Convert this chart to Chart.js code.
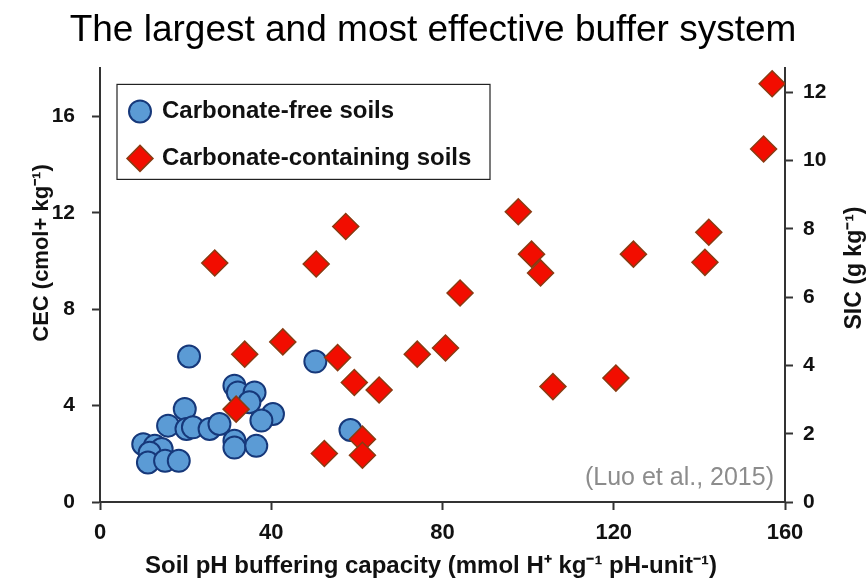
<!DOCTYPE html>
<html>
<head>
<meta charset="utf-8">
<title>The largest and most effective buffer system</title>
<script src="https://cdn.jsdelivr.net/npm/chart.js@4.4.1/dist/chart.umd.min.js"></script>
<style>
  html, body { margin: 0; padding: 0; background: #fff; }
  #wrap { width: 866px; height: 581px; }
</style>
</head>
<body>
<div id="wrap"><canvas id="bufferChart"></canvas></div>
<script>
// Carbonate-free soils: buffering capacity (x) vs CEC (left axis)
const freeBuffer = [20.8, 50.3, 58.5, 19.8, 15.9, 20.2, 21.7, 25.6, 27.9, 10.1, 12.8, 14.4, 11.6,
  11.2, 15.2, 18.4, 31.4, 32.2, 36.1, 34.9, 40.4, 37.7, 31.4, 31.4, 36.5];
const freeCEC = [6.04, 5.83, 2.99, 3.86, 3.17, 3.03, 3.10, 3.03, 3.24, 2.40, 2.33, 2.20, 2.04,
  1.64, 1.71, 1.71, 4.83, 4.55, 4.55, 4.14, 3.65, 3.38, 2.54, 2.26, 2.33];

// Carbonate-containing soils: buffering capacity (x) vs SIC (right axis)
const carbBuffer = [26.8, 50.5, 57.4, 33.8, 42.7, 55.5, 59.4, 65.2, 31.8, 52.4, 61.3, 61.3, 74.1,
  80.7, 84.1, 97.7, 100.8, 102.9, 105.8, 120.5, 124.6, 142.2, 141.3, 155.0, 157.0];
const carbSIC = [7.00, 6.97, 8.07, 4.33, 4.69, 4.23, 3.50, 3.28, 2.72, 1.42, 1.84, 1.37, 4.33,
  4.51, 6.12, 8.50, 7.26, 6.71, 3.38, 3.63, 7.26, 7.90, 7.02, 10.34, 12.25];

const xTicks = [0, 40, 80, 120, 160];
const cecTicks = [0, 4, 8, 12, 16];
const sicTicks = [0, 2, 4, 6, 8, 10, 12];

const FONT = '"Liberation Sans", Arial, Helvetica, sans-serif';
const AXIS = "#333";

// legend box, citation and axis titles drawn on top of the chart
const overlay = {
  id: "overlay",
  afterDraw(chart) {
    const { ctx, chartArea: a } = chart;
    const [free, carb] = chart.data.datasets;
    ctx.save();

    // legend box
    const bx = a.left + 17, by = a.top + 16;
    ctx.fillStyle = "#fff";
    ctx.fillRect(bx, by, 373, 95);
    ctx.strokeStyle = "#222";
    ctx.lineWidth = 1.2;
    ctx.strokeRect(bx, by, 373, 95);

    const mx = bx + 23;
    const y1 = by + 27, y2 = by + 74;
    ctx.beginPath();
    ctx.arc(mx, y1, 11, 0, Math.PI * 2);
    ctx.fillStyle = free.backgroundColor;
    ctx.fill();
    ctx.lineWidth = free.borderWidth;
    ctx.strokeStyle = free.borderColor;
    ctx.stroke();

    ctx.beginPath();
    ctx.moveTo(mx, y2 - 13);
    ctx.lineTo(mx + 13, y2);
    ctx.lineTo(mx, y2 + 13);
    ctx.lineTo(mx - 13, y2);
    ctx.closePath();
    ctx.fillStyle = carb.backgroundColor;
    ctx.fill();
    ctx.lineWidth = carb.borderWidth;
    ctx.strokeStyle = carb.borderColor;
    ctx.stroke();

    ctx.fillStyle = "#111";
    ctx.font = "bold 24px " + FONT;
    ctx.textAlign = "left";
    ctx.textBaseline = "middle";
    ctx.fillText(free.label, bx + 45, y1);
    ctx.fillText(carb.label, bx + 45, y2);

    // citation
    ctx.fillStyle = "#8c8c8c";
    ctx.font = "25px " + FONT;
    ctx.textAlign = "right";
    ctx.fillText("(Luo et al., 2015)", a.right - 11, a.bottom - 24);

    // axis titles
    ctx.fillStyle = "#111";
    ctx.font = "bold 24px " + FONT;
    ctx.textAlign = "center";
    ctx.fillText("Soil pH buffering capacity (mmol H\u207A kg\u207B\u00B9 pH-unit\u207B\u00B9)", 431, 566);

    ctx.font = "bold 22px " + FONT;
    ctx.save();
    ctx.translate(42, 253);
    ctx.rotate(-Math.PI / 2);
    ctx.fillText("CEC (cmol+ kg\u207B\u00B9)", 0, 0);
    ctx.restore();

    ctx.font = "bold 23px " + FONT;
    ctx.save();
    ctx.translate(855, 268);
    ctx.rotate(-Math.PI / 2);
    ctx.fillText("SIC (g kg\u207B\u00B9)", 0, 0);
    ctx.restore();

    ctx.restore();
  }
};

const axisGrid = {
  drawOnChartArea: false,
  drawTicks: true,
  tickLength: 8,
  tickWidth: 2,
  tickColor: AXIS
};

new Chart(document.getElementById("bufferChart"), {
  type: "scatter",
  data: {
    datasets: [
      {
        label: "Carbonate-free soils",
        data: freeBuffer.map((x, i) => ({ x: x, y: freeCEC[i] })),
        yAxisID: "y",
        order: 2,
        pointStyle: "circle",
        pointRadius: 11,
        pointHoverRadius: 11,
        backgroundColor: "#5b9bd5",
        borderColor: "#16387a",
        borderWidth: 2
      },
      {
        label: "Carbonate-containing soils",
        data: carbBuffer.map((x, i) => ({ x: x, y: carbSIC[i] })),
        yAxisID: "y2",
        order: 1,
        pointStyle: "rectRot",
        pointRadius: 13,
        pointHoverRadius: 13,
        backgroundColor: "#f20d00",
        borderColor: "#8a3b12",
        borderWidth: 1.5
      }
    ]
  },
  options: {
    responsive: true,
    maintainAspectRatio: false,
    animation: false,
    layout: { padding: 0 },
    plugins: {
      legend: { display: false },
      tooltip: { enabled: false },
      title: {
        display: true,
        text: "The largest and most effective buffer system",
        color: "#000",
        font: { family: FONT, size: 37, weight: "normal" },
        padding: { top: 9, bottom: 15 }
      }
    },
    scales: {
      x: {
        type: "linear",
        min: 0,
        max: 160,
        afterBuildTicks: s => { s.ticks = xTicks.map(v => ({ value: v })); },
        afterFit: s => { s.height = 79; },
        grid: axisGrid,
        border: { color: AXIS, width: 2 },
        ticks: { color: "#111", padding: 10, font: { family: FONT, size: 22, weight: "bold" } }
      },
      y: {
        type: "linear",
        position: "left",
        min: 0,
        max: 18,
        afterBuildTicks: s => { s.ticks = cecTicks.map(v => ({ value: v })); },
        afterFit: s => { s.width = 100; },
        grid: axisGrid,
        border: { color: AXIS, width: 2 },
        ticks: { color: "#111", padding: 17, font: { family: FONT, size: 21, weight: "bold" } }
      },
      y2: {
        type: "linear",
        position: "right",
        min: 0,
        max: 12.7,
        afterBuildTicks: s => { s.ticks = sicTicks.map(v => ({ value: v })); },
        afterFit: s => { s.width = 81; },
        grid: axisGrid,
        border: { color: AXIS, width: 2 },
        ticks: { color: "#111", padding: 10, font: { family: FONT, size: 21, weight: "bold" } }
      }
    }
  },
  plugins: [overlay]
});
</script>
</body>
</html>
